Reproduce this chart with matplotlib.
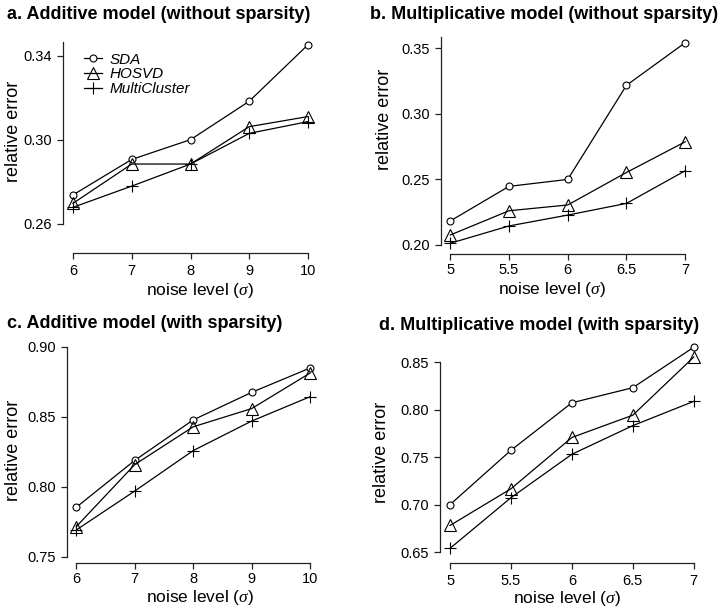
import matplotlib
matplotlib.use('Agg')
import matplotlib.pyplot as plt

plt.rcParams['font.family'] = ['Liberation Sans', 'DejaVu Sans']
plt.rcParams['mathtext.fontset'] = 'custom'
plt.rcParams['mathtext.it'] = 'Liberation Serif:italic'

# noise levels
x_add = [6, 7, 8, 9, 10]
x_mul = [5, 5.5, 6, 6.5, 7]

# a. additive, no sparsity
a_sda = [0.2737, 0.2906, 0.3000, 0.3183, 0.3452]
a_hosvd = [0.2697, 0.2884, 0.2884, 0.3062, 0.3110]
a_mc = [0.2678, 0.2779, 0.2884, 0.3030, 0.3086]

# b. multiplicative, no sparsity
b_sda = [0.2183, 0.2447, 0.2500, 0.3218, 0.3543]
b_hosvd = [0.2076, 0.2261, 0.2305, 0.2553, 0.2787]
b_mc = [0.2013, 0.2145, 0.2228, 0.2317, 0.2566]

# c. additive, sparsity
c_sda = [0.7855, 0.8190, 0.8479, 0.8676, 0.8850]
c_hosvd = [0.7717, 0.8160, 0.8430, 0.8560, 0.8814]
c_mc = [0.7693, 0.7971, 0.8260, 0.8471, 0.8645]

# d. multiplicative, sparsity
d_sda = [0.7000, 0.7573, 0.8074, 0.8233, 0.8660]
d_hosvd = [0.6780, 0.7167, 0.7708, 0.7943, 0.8556]
d_mc = [0.6539, 0.7073, 0.7531, 0.7833, 0.8089]

titles = ['a. Additive model (without sparsity)',
          'b. Multiplicative model (without sparsity)',
          'c. Additive model (with sparsity)',
          'd. Multiplicative model (with sparsity)']
yticks_a = [0.26, 0.30, 0.34]
yticks_b = [0.20, 0.25, 0.30, 0.35]
yticks_c = [0.75, 0.80, 0.85, 0.90]
yticks_d = [0.65, 0.70, 0.75, 0.80, 0.85]

W, H = 725, 613
fig = plt.figure(figsize=(W / 100, H / 100), dpi=100)

def make_ax(x0, x1, ytop, ybot):
    return fig.add_axes([x0 / W, 1 - ybot / H, (x1 - x0) / W, (ybot - ytop) / H])

def draw(ax, x, sda, hosvd, mc, xlim, ylim, yticks, ybounds, xpad):
    ax.plot(x, sda, color='black', lw=0.9, marker='o', ms=5, mfc='white', mec='black', mew=0.8, label='SDA')
    ax.plot(x, hosvd, color='black', lw=0.9, marker='^', ms=8, mfc='none', mec='black', mew=0.8, label='HOSVD')
    ax.plot(x, mc, color='black', lw=0.9, marker='+', ms=8, mec='black', mew=0.8, label='MultiCluster')
    ax.set_xlim(xlim)
    ax.set_ylim(ylim)
    ax.set_xticks(x)
    ax.set_xticklabels([('%g' % v) for v in x])
    ax.set_yticks(yticks)
    ax.set_yticklabels(['%.2f' % v for v in yticks])
    for s in ['top', 'right']:
        ax.spines[s].set_visible(False)
    for s in ['left', 'bottom']:
        ax.spines[s].set_color('#222222')
        ax.spines[s].set_linewidth(0.9)
    ax.spines['left'].set_bounds(*ybounds)
    ax.spines['bottom'].set_bounds(x[0], x[-1])
    ax.tick_params(axis='both', length=4, width=0.9, color='#222222', labelsize=10.5)
    ax.tick_params(axis='x', pad=xpad)
    ax.tick_params(axis='y', pad=4)
    ax.patch.set_visible(False)

ax_a = make_ax(63, 318, 38, 253)
draw(ax_a, x_add, a_sda, a_hosvd, a_mc, (5.830, 10.170), (0.24605, 0.3484), yticks_a, (0.26, 0.3467), 4.2)
ax_b = make_ax(441, 694.5, 36, 254)
draw(ax_b, x_mul, b_sda, b_hosvd, b_mc, (4.921, 7.079), (0.1931, 0.3594), yticks_b, (0.20, 0.3589), 2.5)
ax_c = make_ax(66.7, 319.7, 340, 563)
draw(ax_c, x_add, c_sda, c_hosvd, c_mc, (5.836, 10.164), (0.7457, 0.905), yticks_c, (0.75, 0.90), 2.3)
ax_d = make_ax(440.3, 703.5, 340, 563)
draw(ax_d, x_mul, d_sda, d_hosvd, d_mc, (4.920, 7.080), (0.6384, 0.8736), yticks_d, (0.65, 0.85), 3.7)

leg = ax_a.legend(loc='upper left', bbox_to_anchor=(76 / W, 1 - 45 / H), bbox_transform=fig.transFigure,
                  frameon=False, borderpad=0, handlelength=1.2, handletextpad=0.5, labelspacing=0.05,
                  prop={'style': 'italic', 'size': 11})

# titles
fig.text(7 / W, 1 - 14.5 / H, titles[0], fontsize=13, fontweight='bold', va='center', ha='left')
fig.text(370 / W, 1 - 14.5 / H, titles[1], fontsize=13, fontweight='bold', va='center', ha='left')
fig.text(7 / W, 1 - 323 / H, titles[2], fontsize=13, fontweight='bold', va='center', ha='left')
fig.text(379 / W, 1 - 325 / H, titles[3], fontsize=13, fontweight='bold', va='center', ha='left')

# axis labels
ylab_pos = [(13.3, 131.7), (384.5, 119), (13.3, 450.8), (382, 452)]
xlab_pos = [(200, 290), (552, 289.5), (200, 597.5), (567, 599)]
for (px, py) in ylab_pos:
    fig.text(px / W, 1 - py / H, 'relative error', fontsize=13, rotation=90, va='center', ha='center')
for (px, py) in xlab_pos:
    fig.text(px / W, 1 - py / H, r'noise level ($\mathit{\sigma}$)', fontsize=12.5, va='center', ha='center')

fig.savefig('out.png', dpi=100)
